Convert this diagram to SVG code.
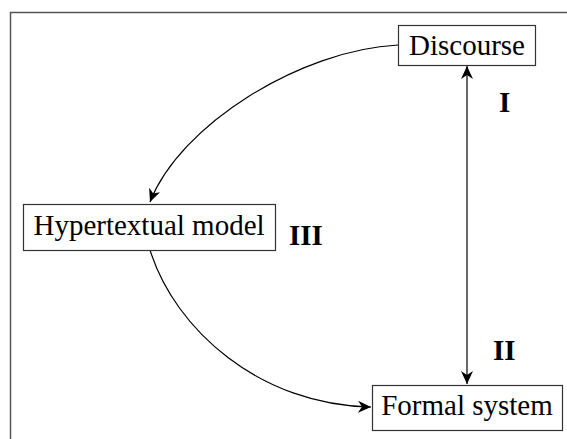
<svg xmlns="http://www.w3.org/2000/svg" width="567" height="439" viewBox="0 0 567 439">
<defs>
<style>
.box{fill:#fff;stroke:#333;stroke-width:1.2}
.lbl{font-size:29px;fill:#000;text-anchor:middle}
.num{font-size:29px;font-weight:bold;fill:#000}
.edge{fill:none;stroke:#000;stroke-width:1.2}
</style>
<marker id="ah" viewBox="0 0 13 12" refX="13" refY="6" markerWidth="13" markerHeight="12" markerUnits="userSpaceOnUse" orient="auto-start-reverse">
<path d="M0,0 L13,6 L0,12 L4,6 Z" fill="#000"/>
</marker>
</defs>
<rect width="567" height="439" fill="#fff"/>
<path d="M10.5,439 V12.5 H567" fill="none" stroke="#555" stroke-width="1.5"/>
<g id="connectors">
<path class="edge" d="M398,45 C300,50 180,125 150,202" marker-end="url(#ah)"/>
<path class="edge" d="M150,250 C175,330 260,405 371,407" marker-end="url(#ah)"/>
<path class="edge" d="M467,66 V384" marker-start="url(#ah)" marker-end="url(#ah)"/>
</g>
<g font-family="'Liberation Serif', 'DejaVu Serif', serif">
<g id="discourse">
<rect class="box" x="398.5" y="25.5" width="137" height="40"/>
<text class="lbl" x="467" y="55">Discourse</text>
</g>
<g id="hypertextual">
<rect class="box" x="23.5" y="204.5" width="252" height="46"/>
<text class="lbl" x="149" y="235">Hypertextual model</text>
</g>
<g id="formal">
<rect class="box" x="372.5" y="385.5" width="190" height="45"/>
<text class="lbl" x="467" y="415">Formal system</text>
</g>
<g id="labels">
<text class="num" x="499" y="112">I</text>
<text class="num" x="493" y="360">II</text>
<text class="num" x="289" y="245">III</text>
</g>
</g>
</svg>
